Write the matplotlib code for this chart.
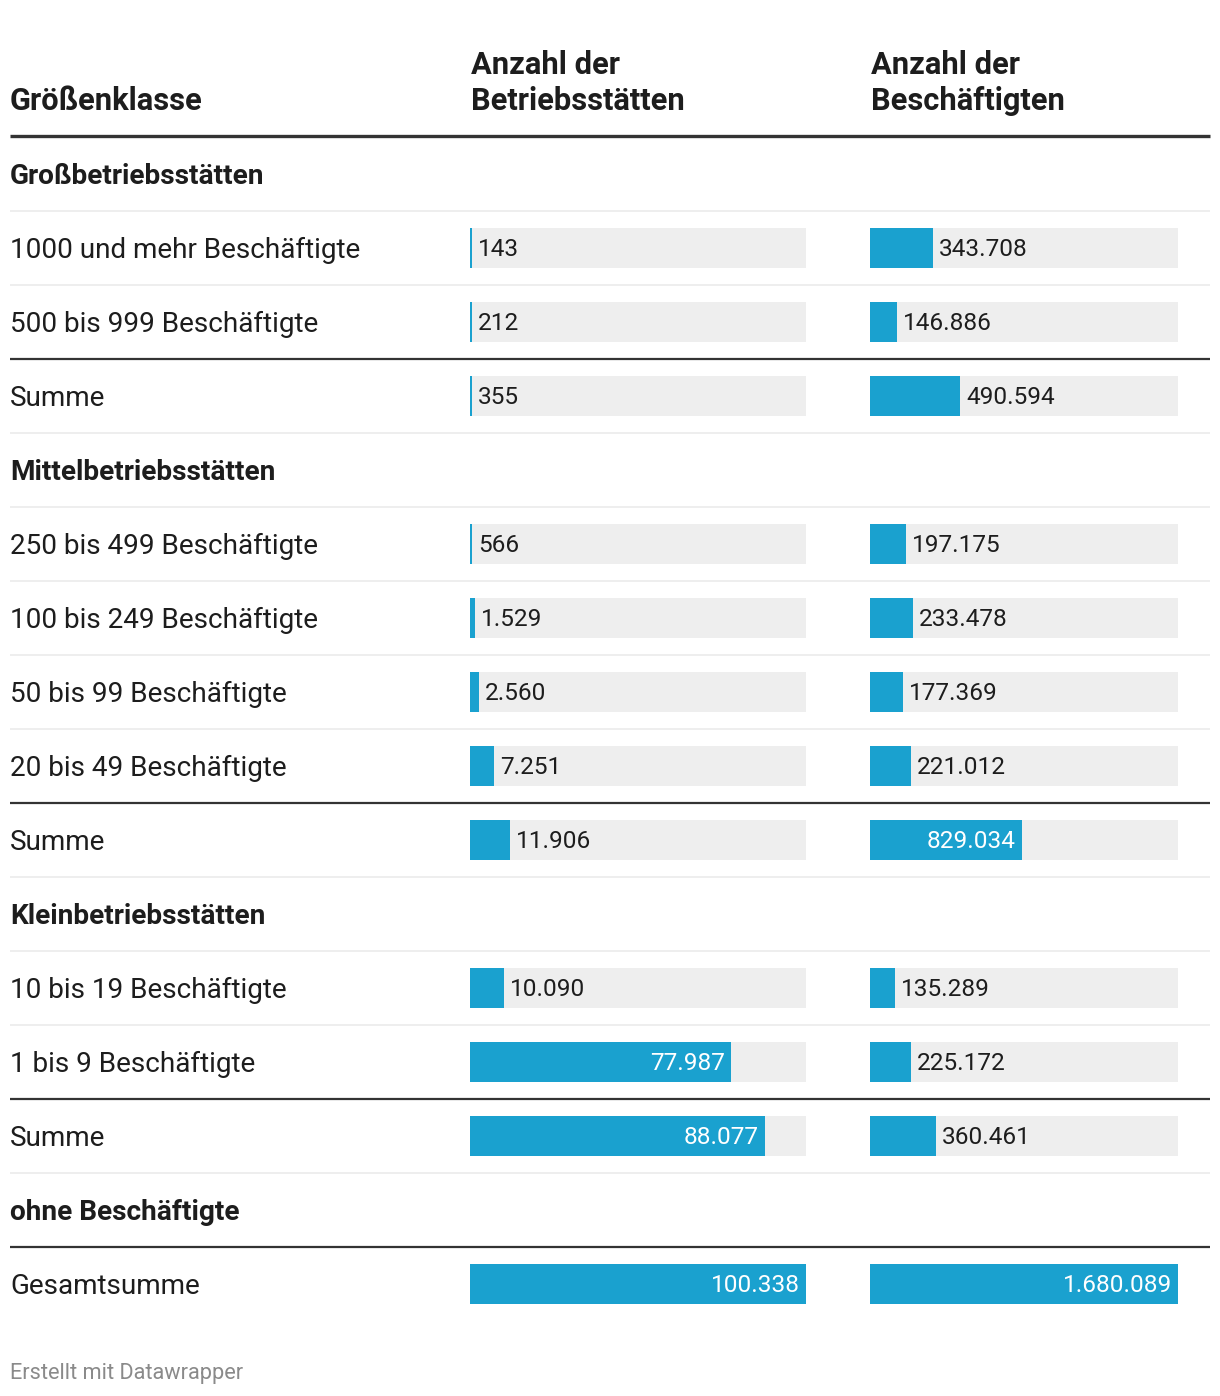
import matplotlib
matplotlib.use('Agg')
import matplotlib.pyplot as plt

plt.rcParams['font.family'] = ['Roboto', 'DejaVu Sans']

# rows of the table: (kind, label, Betriebsstaetten, Beschaeftigte)
kinds = ['group', 'row', 'row', 'sum',
         'group', 'row', 'row', 'row', 'row', 'sum',
         'group', 'row', 'row', 'sum',
         'group', 'total']
labels = ['Großbetriebsstätten', '1000 und mehr Beschäftigte', '500 bis 999 Beschäftigte', 'Summe',
          'Mittelbetriebsstätten', '250 bis 499 Beschäftigte', '100 bis 249 Beschäftigte',
          '50 bis 99 Beschäftigte', '20 bis 49 Beschäftigte', 'Summe',
          'Kleinbetriebsstätten', '10 bis 19 Beschäftigte', '1 bis 9 Beschäftigte', 'Summe',
          'ohne Beschäftigte', 'Gesamtsumme']
betriebe = [None, 143, 212, 355,
            None, 566, 1529, 2560, 7251, 11906,
            None, 10090, 77987, 88077,
            None, 100338]
beschaeftigte = [None, 343708, 146886, 490594,
                 None, 197175, 233478, 177369, 221012, 829034,
                 None, 135289, 225172, 360461,
                 None, 1680089]

BLUE = '#1aa1cf'
GREY_BG = '#eeeeee'
DARK = '#333333'
TXT = '#1d1d1d'

W, H = 1220, 1396
fig = plt.figure(figsize=(W / 100, H / 100), dpi=100)
ax = fig.add_axes([0, 0, 1, 1])
ax.set_xlim(0, W)
ax.set_ylim(H, 0)
ax.axis('off')

def fmt(v):
    return f'{v:,}'.replace(',', '.')

# header
HS = 22.2
ax.text(10, 101.5, 'Größenklasse', fontsize=HS, fontweight='bold', color=TXT, va='center')
ax.text(471, 65.5, 'Anzahl der', fontsize=HS, fontweight='bold', color=TXT, va='center')
ax.text(471, 101.5, 'Betriebsstätten', fontsize=HS, fontweight='bold', color=TXT, va='center')
ax.text(871, 65.5, 'Anzahl der', fontsize=HS, fontweight='bold', color=TXT, va='center')
ax.text(871, 101.5, 'Beschäftigten', fontsize=HS, fontweight='bold', color=TXT, va='center')
ax.plot([10, 1210], [135.5, 135.5], color=DARK, lw=2.4, solid_capstyle='butt')

cols = [(470, 336, betriebe), (870, 308, beschaeftigte)]
maxes = [max(v for v in betriebe if v), max(v for v in beschaeftigte if v)]

y0, pitch = 174, 74
for i, (kind, lab) in enumerate(zip(kinds, labels)):
    yc = y0 + i * pitch
    ty = yc + 2
    if kind == 'group':
        ax.text(10, ty, lab, fontsize=20.2, fontweight='bold', color=TXT, va='center')
    else:
        ax.text(10, ty, lab, fontsize=20.1, color=TXT, va='center')
        for (x0, width, vals), vmax in zip(cols, maxes):
            v = vals[i]
            frac = v / vmax
            bw = max(width * frac, 2)
            ax.add_patch(plt.Rectangle((x0, yc - 20), width, 40, color=GREY_BG, lw=0))
            ax.add_patch(plt.Rectangle((x0, yc - 20), bw, 40, color=BLUE, lw=0))
            if frac > 0.4:
                ax.text(x0 + bw - 6, ty, fmt(v), fontsize=17.6, color='white',
                        ha='right', va='center')
            else:
                ax.text(x0 + bw + 6, ty, fmt(v), fontsize=17.6, color=TXT,
                        ha='left', va='center')
    # separator below row
    ys = yc + pitch / 2
    if i + 1 < len(kinds):
        nxt = kinds[i + 1]
        if nxt in ('sum', 'total'):
            ax.plot([10, 1210], [ys, ys], color=DARK, lw=1.6, solid_capstyle='butt')
        else:
            ax.plot([10, 1210], [ys, ys], color=GREY_BG, lw=1.4, solid_capstyle='butt')

ax.text(10, 1374, 'Erstellt mit Datawrapper', fontsize=15.7, color='#8a8a8a', va='center')

fig.savefig('out.png', dpi=100)
